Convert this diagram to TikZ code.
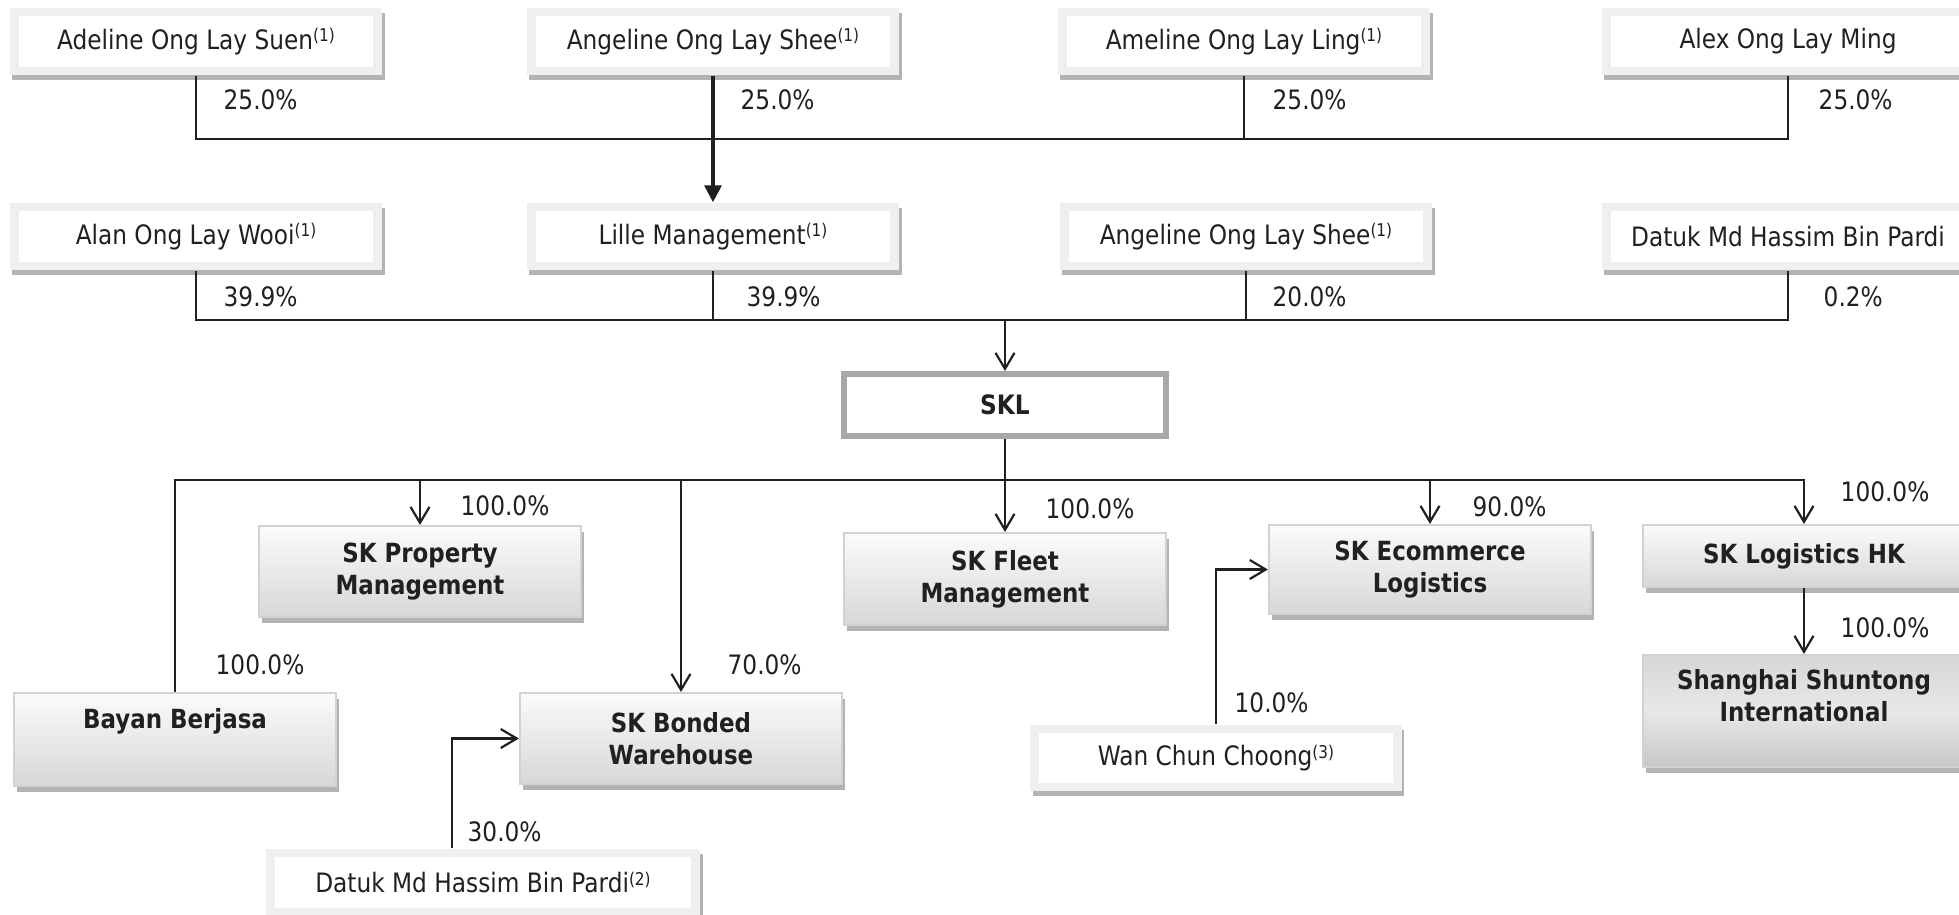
\documentclass[tikz,border=0pt]{standalone}
\usepackage{fontspec}
\setmainfont{DejaVu Sans}[FakeStretch=0.87]
\usetikzlibrary{arrows.meta,shadows,calc}
\definecolor{txt}{HTML}{231F20}
\definecolor{bordergray}{HTML}{EEEFF1}
\definecolor{shadowgray}{HTML}{B2B3B5}
\definecolor{sklborder}{HTML}{A7A8AA}
\definecolor{entborder}{HTML}{D1D2D4}
\definecolor{enttop}{HTML}{FBFBFB}
\definecolor{entbot}{HTML}{D6D7D9}
\newcommand\fnref[1]{\raisebox{2.1pt}{\fontsize{5pt}{5pt}\selectfont(#1)}}
\begin{document}
\begin{tikzpicture}[x=0.01cm,y=-0.01cm,
  font=\fontsize{7.6pt}{9.1pt}\selectfont, text=txt,
  topbox/.style={fill=bordergray, minimum width=3.72cm, minimum height=0.67cm, inner sep=0pt,
    general shadow={fill=shadowgray, shadow xshift=0.025cm, shadow yshift=-0.05cm},
    path picture={\fill[white] ([xshift=0.09cm,yshift=0.08cm]path picture bounding box.south west) rectangle ([xshift=-0.09cm,yshift=-0.08cm]path picture bounding box.north east);}},
  sklbox/.style={fill=white, draw=sklborder, line width=0.06cm, minimum width=3.21cm, minimum height=0.62cm, inner sep=0pt},
  entbox/.style={top color=enttop, bottom color=entbot, draw=entborder, line width=0.02cm,
    minimum width=3.22cm, inner sep=0pt, align=center, font=\fontsize{7.5pt}{9.1pt}\selectfont\bfseries,
    general shadow={fill=shadowgray, shadow xshift=0.03cm, shadow yshift=-0.06cm}},
  shangbox/.style={top color=black!16, bottom color=black!22, middle color=black!9},
  pct/.style={anchor=west, inner sep=0pt},
  conn/.style={draw=txt, line width=0.022cm},
  arr/.style={conn, -{Straight Barb[length=0.16cm,width=0.19cm]}},
  bigarr/.style={draw=txt, line width=0.035cm, -{Triangle[length=0.17cm,width=0.17cm]}}
]
\useasboundingbox (0,0) rectangle (1959,915);

% row 1
\node[topbox] (a1) at (196,41.5) {Adeline Ong Lay Suen\fnref{1}};
\node[topbox] (a2) at (713,41.5) {Angeline Ong Lay Shee\fnref{1}};
\node[topbox] (a3) at (1244,41.5) {Ameline Ong Lay Ling\fnref{1}};
\node[topbox] (a4) at (1788,41.5) {Alex Ong Lay Ming};
% row 2
\node[topbox] (b1) at (196,236.5) {Alan Ong Lay Wooi\fnref{1}};
\node[topbox] (b2) at (713,236.5) {Lille Management\fnref{1}};
\node[topbox] (b3) at (1246,236.5) {Angeline Ong Lay Shee\fnref{1}};
\node[topbox] (b4) at (1788,236.5) {Datuk Md Hassim Bin Pardi};
% SKL
\node[sklbox] (skl) at (1005,405) {\bfseries SKL};
% subsidiaries
\node[entbox, minimum height=0.91cm] (prop) at (420,571.5) {SK Property\\Management};
\node[entbox, minimum height=0.92cm] (fleet) at (1005,579) {SK Fleet\\Management};
\node[entbox, minimum height=0.89cm] (ecom) at (1430,569.5) {SK Ecommerce\\Logistics};
\node[entbox, minimum height=0.62cm] (hk) at (1804,556) {SK Logistics HK};
\node[entbox, shangbox, minimum height=1.12cm] (shang) at (1804,711) {\raisebox{0.12cm}[\height][\depth]{\begin{tabular}{@{}c@{}}Shanghai Shuntong\\International\end{tabular}}};
\node[entbox, minimum height=0.93cm] (bayan) at (175,739.5) {\raisebox{0.18cm}[\height][\depth]{Bayan Berjasa}};
\node[entbox, minimum height=0.91cm] (bonded) at (681,738.5) {SK Bonded\\Warehouse};
\node[topbox, minimum width=4.34cm] (datuk2) at (483,882.5) {Datuk Md Hassim Bin Pardi\fnref{2}};
\node[topbox, minimum width=3.71cm, minimum height=0.66cm] (wan) at (1216,758) {Wan Chun Choong\fnref{3}};

% junction coordinates
\coordinate (bus1) at (713,139);
\coordinate (bus2) at (1005,320);
\coordinate (bus3) at (1005,480);

% connectors row 1
\draw[conn] (a1.south) |- (bus1) -| (a4.south);
\draw[conn] (a3.south) -- (a3.south |- bus1);
\draw[bigarr] (a2.south) -- (b2.north);
% connectors row 2
\draw[conn] (b1.south) |- (bus2) -| (b4.south);
\draw[conn] (b2.south) -- (b2.south |- bus2);
\draw[conn] (b3.south) -- (b3.south |- bus2);
\draw[arr] (bus2) -- (skl.north);
% subsidiaries
\draw[arr] (bayan.north) |- (bus3) -| (hk.north);
\draw[arr] (skl.south) -- (fleet.north);
\draw[arr] (prop.north |- bus3) -- (prop.north);
\draw[arr] (bonded.north |- bus3) -- (bonded.north);
\draw[arr] (ecom.north |- bus3) -- (ecom.north);
\draw[arr] (hk.south) -- (shang.north);
\draw[arr] (wan.north) |- (ecom.west);
\draw[arr] ([xshift=-0.31cm]datuk2.north) |- (bonded.west);

% percentages
\node[pct] (p1) at (223,100) {25.0\%};
\node[pct] (p2) at (740,100) {25.0\%};
\node[pct] (p3) at (1272,100) {25.0\%};
\node[pct] (p4) at (1818,100) {25.0\%};
\node[pct] (p5) at (223,297) {39.9\%};
\node[pct] (p6) at (746,297) {39.9\%};
\node[pct] (p7) at (1272,297) {20.0\%};
\node[pct] (p8) at (1823,297) {0.2\%};
\node[pct] (p9) at (460,506) {100.0\%};
\node[pct] (p10) at (1045,509) {100.0\%};
\node[pct] (p11) at (1472,507) {90.0\%};
\node[pct] (p12) at (1840,492) {100.0\%};
\node[pct] (p13) at (1840,628) {100.0\%};
\node[pct] (p14) at (215,665) {100.0\%};
\node[pct] (p15) at (727,665) {70.0\%};
\node[pct] (p16) at (467,832) {30.0\%};
\node[pct] (p17) at (1234,703) {10.0\%};
\end{tikzpicture}
\end{document}
